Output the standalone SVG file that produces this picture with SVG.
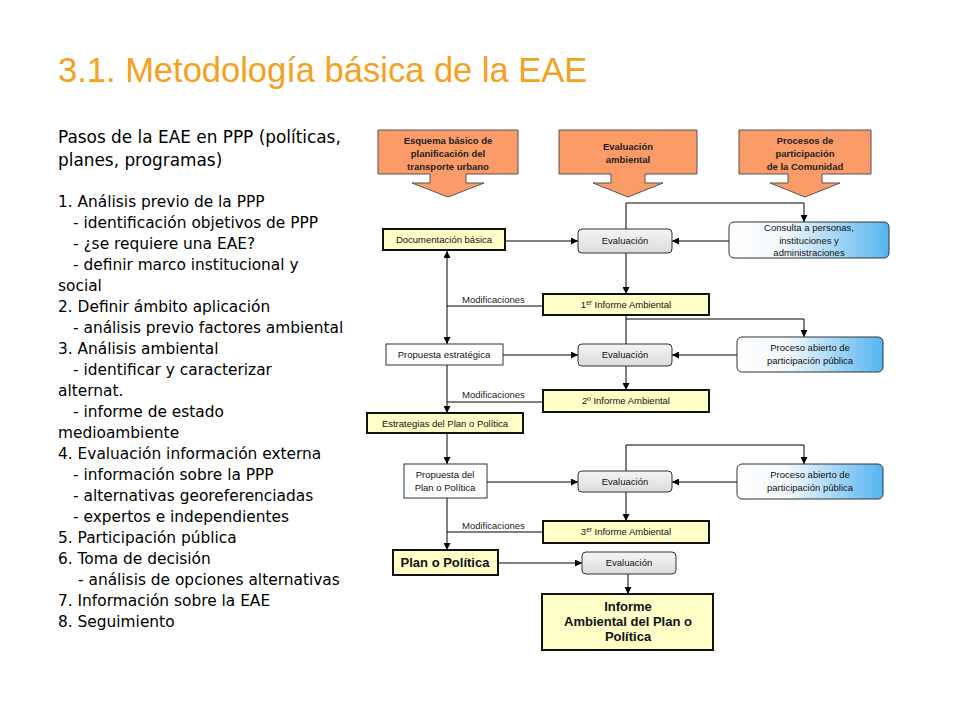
<svg xmlns="http://www.w3.org/2000/svg" width="960" height="720" viewBox="0 0 960 720">
<defs>
<marker id="ah" viewBox="0 0 10 10" refX="10" refY="5" markerWidth="7" markerHeight="7" markerUnits="userSpaceOnUse" orient="auto-start-reverse">
<path d="M0,0 L10,5 L0,10 z" fill="#000"/>
</marker>
<linearGradient id="gEval" x1="0" y1="0" x2="0" y2="1">
<stop offset="0" stop-color="#f4f4f4"/>
<stop offset="1" stop-color="#dcdcdc"/>
</linearGradient>
<linearGradient id="gBlue" x1="0" y1="0" x2="1" y2="0">
<stop offset="0" stop-color="#ffffff"/>
<stop offset="0.35" stop-color="#f2f8fd"/>
<stop offset="1" stop-color="#55b4f0"/>
</linearGradient>
<style>
.title{font-family:"Liberation Sans",Arial,sans-serif;font-size:34.5px;fill:#F5A01E}
.body{font-family:"DejaVu Sans",sans-serif;font-size:15.4px;fill:#000}
.head{font-family:"DejaVu Sans",sans-serif;font-size:16.9px;fill:#000}
.lbl{font-family:"Liberation Sans",Arial,sans-serif;font-size:9.5px;fill:#111;text-anchor:middle}
.lblb{font-family:"Liberation Sans",Arial,sans-serif;font-size:9.5px;font-weight:bold;fill:#222;text-anchor:middle}
.big{font-family:"Liberation Sans",Arial,sans-serif;font-size:13px;font-weight:bold;fill:#111;text-anchor:middle}
.mod{font-family:"Liberation Sans",Arial,sans-serif;font-size:9.5px;fill:#222}
.orange{fill:#FB9B68;stroke:#555;stroke-width:1}
.yel{fill:#FFFFC8;stroke:#111;stroke-width:2}
.wht{fill:#fff;stroke:#333;stroke-width:1}
.eval{fill:url(#gEval);stroke:#333;stroke-width:1}
.blue{fill:url(#gBlue);stroke:#333;stroke-width:1}
.c{fill:none;stroke:#000;stroke-width:1}
.ca{fill:none;stroke:#000;stroke-width:1;marker-end:url(#ah)}
</style>
</defs>
<rect width="960" height="720" fill="#fff"/>

<text class="title" x="58" y="82">3.1. Metodología básica de la EAE</text>

<g id="steps">
<text class="head" x="58" y="143">Pasos de la EAE en PPP (políticas,</text>
<text class="head" x="58" y="166">planes, programas)</text>
<text class="body" x="58" y="207">1. Análisis previo de la PPP</text>
<text class="body" x="73" y="228">- identificación objetivos de PPP</text>
<text class="body" x="73" y="249">- ¿se requiere una EAE?</text>
<text class="body" x="73" y="270">- definir marco institucional y</text>
<text class="body" x="58" y="291">social</text>
<text class="body" x="58" y="312">2. Definir ámbito aplicación</text>
<text class="body" x="73" y="333">- análisis previo factores ambiental</text>
<text class="body" x="58" y="354">3. Análisis ambiental</text>
<text class="body" x="73" y="375">- identificar y caracterizar</text>
<text class="body" x="58" y="396">alternat.</text>
<text class="body" x="73" y="417">- informe de estado</text>
<text class="body" x="58" y="438">medioambiente</text>
<text class="body" x="58" y="459">4. Evaluación información externa</text>
<text class="body" x="73" y="480">- información sobre la PPP</text>
<text class="body" x="73" y="501">- alternativas georeferenciadas</text>
<text class="body" x="73" y="522">- expertos e independientes</text>
<text class="body" x="58" y="543">5. Participación pública</text>
<text class="body" x="58" y="564">6. Toma de decisión</text>
<text class="body" x="78" y="585">- análisis de opciones alternativas</text>
<text class="body" x="58" y="606">7. Información sobre la EAE</text>
<text class="body" x="58" y="627">8. Seguimiento</text>
</g>

<g id="n-esquema">
<path class="orange" d="M378,130 H518 V174 H466 V183 H484 L448,197 L412,183 H430 V174 H378 Z"/>
<text class="lblb" x="448" y="144">Esquema básico de</text>
<text class="lblb" x="448" y="157">planificación del</text>
<text class="lblb" x="448" y="170">transporte urbano</text>
</g>
<g id="n-evalamb">
<path class="orange" d="M559,130 H697 V174 H645 V183 H663 L628,197 L593,183 H611 V174 H559 Z"/>
<text class="lblb" x="628" y="150">Evaluación</text>
<text class="lblb" x="628" y="163">ambiental</text>
</g>
<g id="n-procesos">
<path class="orange" d="M739,130 H871 V174 H822 V183 H840 L805,197 L770,183 H788 V174 H739 Z"/>
<text class="lblb" x="805" y="144">Procesos de</text>
<text class="lblb" x="805" y="157">participación</text>
<text class="lblb" x="805" y="170">de la Comunidad</text>
</g>

<g id="connectors">
<polyline class="ca" points="626,229 626,203 804,203 804,222"/>
<line class="ca" x1="505" y1="241" x2="578" y2="241"/>
<line class="ca" x1="729" y1="241" x2="672" y2="241"/>
<line class="ca" x1="626" y1="253" x2="626" y2="294"/>
<line class="c" x1="543" y1="306" x2="447" y2="306"/>
<line class="ca" x1="447" y1="300" x2="447" y2="251" />
<line class="ca" x1="447" y1="300" x2="447" y2="344" />
<line class="c" x1="626" y1="315" x2="626" y2="344"/>
<polyline class="ca" points="626,319 804,319 804,337"/>
<line class="ca" x1="503" y1="355" x2="578" y2="355"/>
<line class="ca" x1="737" y1="355" x2="672" y2="355"/>
<line class="ca" x1="626" y1="366" x2="626" y2="390"/>
<line class="c" x1="543" y1="402" x2="447" y2="402"/>
<line class="ca" x1="447" y1="365" x2="447" y2="413"/>
<line class="ca" x1="447" y1="433" x2="447" y2="464"/>
<polyline class="ca" points="626,471 626,445 804,445 804,464"/>
<line class="ca" x1="487" y1="482" x2="578" y2="482"/>
<line class="ca" x1="737" y1="482" x2="672" y2="482"/>
<line class="ca" x1="626" y1="492" x2="626" y2="521"/>
<line class="c" x1="543" y1="532" x2="447" y2="532"/>
<line class="ca" x1="447" y1="498" x2="447" y2="550"/>
<line class="ca" x1="498" y1="563" x2="582" y2="563"/>
<line class="ca" x1="628" y1="574" x2="628" y2="594"/>
<text class="mod" x="462" y="303">Modificaciones</text>
<text class="mod" x="462" y="398">Modificaciones</text>
<text class="mod" x="462" y="529">Modificaciones</text>
</g>

<g id="n-doc">
<rect class="yel" x="383" y="229" width="122" height="21"/>
<text class="lbl" x="444" y="243">Documentación básica</text>
</g>
<g id="n-eval1">
<rect class="eval" x="578" y="229" width="94" height="24" rx="4"/>
<text class="lbl" x="625" y="244">Evaluación</text>
</g>
<g id="n-consulta">
<rect class="blue" x="729" y="222" width="160" height="36" rx="5"/>
<text class="lbl" x="809" y="231">Consulta a personas,</text>
<text class="lbl" x="809" y="244">instituciones y</text>
<text class="lbl" x="809" y="256">administraciones</text>
</g>
<g id="n-inf1">
<rect class="yel" x="543" y="294" width="166" height="21"/>
<text class="lbl" x="626" y="308">1<tspan font-size="6.5" dy="-3.5">er</tspan><tspan dy="3.5"> Informe Ambiental</tspan></text>
</g>
<g id="n-propest">
<rect class="wht" x="386" y="344" width="117" height="21"/>
<text class="lbl" x="444" y="358">Propuesta estratégica</text>
</g>
<g id="n-eval2">
<rect class="eval" x="578" y="344" width="94" height="22" rx="4"/>
<text class="lbl" x="625" y="358">Evaluación</text>
</g>
<g id="n-proc1">
<rect class="blue" x="737" y="337" width="146" height="35" rx="5"/>
<text class="lbl" x="810" y="351">Proceso abierto de</text>
<text class="lbl" x="810" y="364">participación pública</text>
</g>
<g id="n-inf2">
<rect class="yel" x="543" y="390" width="166" height="22"/>
<text class="lbl" x="626" y="404">2º Informe Ambiental</text>
</g>
<g id="n-estr">
<rect class="yel" x="367" y="413" width="156" height="20"/>
<text class="lbl" x="445" y="427">Estrategias del Plan o Política</text>
</g>
<g id="n-propplan">
<rect class="wht" x="404" y="464" width="83" height="34"/>
<text class="lbl" x="445" y="478">Propuesta del</text>
<text class="lbl" x="445" y="491">Plan o Política</text>
</g>
<g id="n-eval3">
<rect class="eval" x="578" y="471" width="94" height="21" rx="4"/>
<text class="lbl" x="625" y="485">Evaluación</text>
</g>
<g id="n-proc2">
<rect class="blue" x="737" y="464" width="146" height="35" rx="5"/>
<text class="lbl" x="810" y="478">Proceso abierto de</text>
<text class="lbl" x="810" y="491">participación pública</text>
</g>
<g id="n-inf3">
<rect class="yel" x="543" y="521" width="166" height="22"/>
<text class="lbl" x="626" y="535">3<tspan font-size="6.5" dy="-3.5">er</tspan><tspan dy="3.5"> Informe Ambiental</tspan></text>
</g>
<g id="n-plan">
<rect class="yel" x="393" y="550" width="105" height="25"/>
<text class="big" x="445" y="567">Plan o Política</text>
</g>
<g id="n-eval4">
<rect class="eval" x="582" y="552" width="94" height="22" rx="4"/>
<text class="lbl" x="629" y="566" font-size="8.5">Evaluación</text>
</g>
<g id="n-informe">
<rect class="yel" x="542" y="594" width="171" height="56"/>
<text class="big" x="628" y="611">Informe</text>
<text class="big" x="628" y="626">Ambiental del Plan o</text>
<text class="big" x="628" y="641">Política</text>
</g>
</svg>
